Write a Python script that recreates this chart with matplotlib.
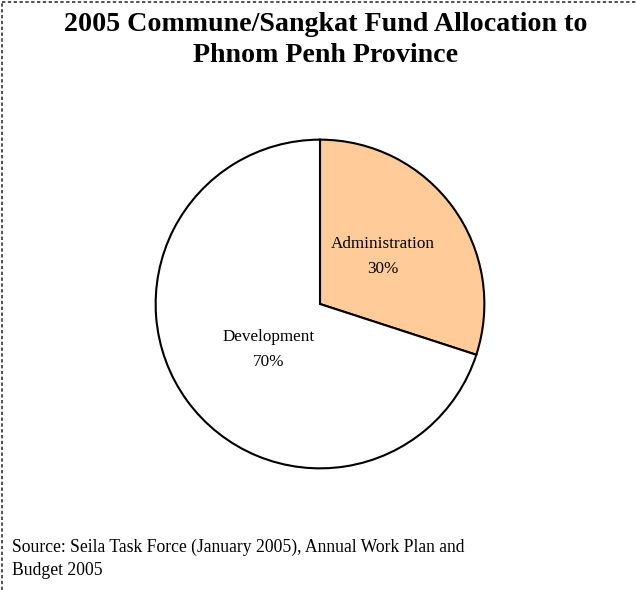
import matplotlib.pyplot as plt
from matplotlib.lines import Line2D

categories = ["Administration", "Development"]
shares = [30, 70]
colors = ["#FFCC99", "#FFFFFF"]

TITLE = "2005 Commune/Sangkat Fund Allocation to\nPhnom Penh Province"
SOURCE = "Source: Seila Task Force (January 2005), Annual Work Plan and\nBudget 2005"

# label anchor points inside the pie (axes data units, radius = 1)
label_pos = [(0.38, 0.29), (-0.313, -0.277)]

W, H = 637, 590
plt.rcParams['font.family'] = ['Liberation Serif', 'DejaVu Serif']

fig = plt.figure(figsize=(W / 100, H / 100), dpi=100)
fig.patch.set_facecolor("white")

# pie centred at (320, 304) px, radius 166 px
cx, cy, r = 320, 304, 166
ax = fig.add_axes([(cx - r) / W, (H - cy - r) / H, 2 * r / W, 2 * r / H])
ax.pie(shares, colors=colors, startangle=90, counterclock=False,
       wedgeprops=dict(edgecolor="black", linewidth=1.5), radius=1.0)
for (x, y), cat, val in zip(label_pos, categories, shares):
    ax.text(x, y, f"{cat}\n{val}%", ha="center", va="center",
            fontsize=12.3, linespacing=1.7)
ax.set_xlim(-1.01, 1.01)
ax.set_ylim(-1.01, 1.01)
ax.set_aspect("equal")
ax.axis("off")

fig.text(0.5 + 7 / W, 1 - 40 / H, TITLE, ha="center", va="center",
         fontsize=20.2, fontweight="bold", linespacing=1.3)
fig.text(12 / W, 1 - 559 / H, SOURCE, ha="left", va="center",
         fontsize=12.7, linespacing=1.45)

# dashed frame along top and left
fig.add_artist(Line2D([2 / W, 1], [1 - 2 / H, 1 - 2 / H], color="#333333",
                      linewidth=1.2, linestyle=(0, (2, 1.5))))
fig.add_artist(Line2D([2 / W, 2 / W], [0, 1 - 2 / H], color="#333333",
                      linewidth=1.2, linestyle=(0, (2, 1.5))))

fig.savefig("out.png", dpi=100)
